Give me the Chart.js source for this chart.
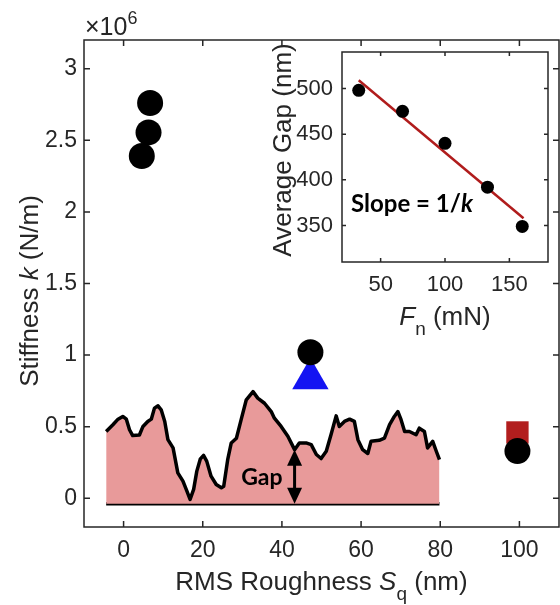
<!DOCTYPE html>
<html>
<head>
<meta charset="utf-8">
<script src="https://cdn.jsdelivr.net/npm/chart.js@4.4.1/dist/chart.umd.min.js"></script>
<style>
  html, body { margin: 0; padding: 0; background: #fff; overflow: hidden; }
  #wrap { position: relative; width: 560px; height: 605px; }
  #main { position: absolute; left: 0; top: 0; }
  #inset { position: absolute; left: 265px; top: 20px; }
</style>
</head>
<body>
<div id="wrap">
  <canvas id="main" width="560" height="605"></canvas>
  <canvas id="inset" width="295" height="320"></canvas>
</div>
<script>
// main panel: stiffness (x10^6 N/m) vs RMS roughness Sq (nm)
const roughCircle = [4.6, 6.3, 6.7, 47.2, 99.5];
const stiffCircle = [2.39, 2.555, 2.76, 1.02, 0.33];
const roughTriangle = [47.2];
const stiffTriangle = [0.835];
const roughSquare = [99.5];
const stiffSquare = [0.46];

// sketch of the rough surface, drawn in the same axes
const profileX = [-4.4, -2.7, -1.4, -0.2, 0.7, 1.5, 2.3, 4.0, 4.9, 6.1, 7.0, 7.8, 8.7, 9.5, 10.4, 11.2,
  12.5, 13.7, 15.0, 16.0, 16.8, 17.7, 18.5, 19.4, 20.2, 21.0, 22.1, 23.4, 24.7, 25.3, 26.3, 27.2, 28.5,
  29.7, 31.0, 32.7, 33.9, 35.6, 37.3, 38.1, 39.8, 41.5, 43.2, 44.4, 46.1, 47.4, 48.7, 49.9, 51.2, 52.4,
  53.7, 54.5, 55.8, 57.1, 58.3, 59.2, 60.4, 61.7, 62.5, 64.6, 65.9, 67.2, 68.4, 69.3, 70.1, 71.0, 72.2,
  73.9, 74.7, 76.0, 76.8, 78.1, 79.0, 79.8];
const profileY = [0.467, 0.514, 0.553, 0.572, 0.553, 0.479, 0.438, 0.442, 0.502, 0.537, 0.553, 0.63,
  0.646, 0.618, 0.537, 0.41, 0.352, 0.178, 0.12, 0.051, -0.007, 0.063, 0.19, 0.276, 0.3, 0.26, 0.155,
  0.097, 0.074, 0.085, 0.27, 0.387, 0.42, 0.55, 0.688, 0.745, 0.7, 0.664, 0.606, 0.56, 0.502, 0.433,
  0.34, 0.387, 0.387, 0.375, 0.306, 0.278, 0.329, 0.444, 0.576, 0.502, 0.537, 0.553, 0.537, 0.41, 0.34,
  0.313, 0.398, 0.405, 0.42, 0.514, 0.572, 0.606, 0.549, 0.467, 0.467, 0.444, 0.49, 0.467, 0.352,
  0.398, 0.329, 0.27];
const baseX = [-4.4, 79.8];
const baseY = -0.037;
const gapX = 43.2;
const gapTop = 0.34;

const xTicks = [0, 20, 40, 60, 80, 100];
const yTicks = [0, 0.5, 1, 1.5, 2, 2.5, 3];

// inset: average gap vs normal force
const forceFn = [33, 67, 100, 133, 160];
const avgGap = [498, 475, 440, 392, 349];
const fitFn = [33, 161];
const fitGap = [509, 358];
const insetXTicks = [50, 100, 150];
const insetYTicks = [350, 400, 450, 500];

const FONT = "'Liberation Sans', Arial, sans-serif";
const BOLD = "Lato, 'Open Sans', sans-serif";
const axisColor = '#262626';

const pts = (xs, ys) => xs.map((x, i) => ({ x: x, y: ys[i] }));

// box with inward ticks on all four sides
function frame(chart, len) {
  const { ctx, chartArea: a, scales: { x, y } } = chart;
  ctx.save();
  ctx.strokeStyle = axisColor;
  ctx.lineWidth = 1.5;
  ctx.strokeRect(a.left, a.top, a.right - a.left, a.bottom - a.top);
  ctx.beginPath();
  x.ticks.forEach(t => {
    const p = x.getPixelForValue(t.value);
    ctx.moveTo(p, a.bottom); ctx.lineTo(p, a.bottom - len);
    ctx.moveTo(p, a.top); ctx.lineTo(p, a.top + len);
  });
  y.ticks.forEach(t => {
    const p = y.getPixelForValue(t.value);
    ctx.moveTo(a.left, p); ctx.lineTo(a.left + len, p);
    ctx.moveTo(a.right, p); ctx.lineTo(a.right - len, p);
  });
  ctx.stroke();
  ctx.restore();
}

// text with italic / subscript / superscript pieces, centred on x
function rich(ctx, parts, x, y, size, family, weight, align) {
  const fontFor = p => `${p.i ? 'italic ' : ''}${weight || 'normal'} ${p.sub || p.sup ? Math.round(size * 0.72) : size}px ${family}`;
  let w = 0;
  parts.forEach(p => { ctx.font = fontFor(p); p.w = ctx.measureText(p.t).width; w += p.w; });
  let cx = align === 'left' ? x : x - w / 2;
  ctx.textAlign = 'left';
  ctx.textBaseline = 'alphabetic';
  parts.forEach(p => {
    ctx.font = fontFor(p);
    ctx.fillText(p.t, cx, y + (p.sub ? size * 0.4 : p.sup ? -size * 0.45 : 0));
    cx += p.w;
  });
}

const mainDecor = {
  id: 'mainDecor',
  afterDatasetsDraw(chart) {
    const { ctx, chartArea: a, scales: { x, y } } = chart;
    frame(chart, 6);

    // gap arrow
    const ax = x.getPixelForValue(gapX);
    const y1 = y.getPixelForValue(gapTop);
    const y2 = y.getPixelForValue(baseY);
    const head = 16, hw = 7.5;
    ctx.save();
    ctx.fillStyle = '#000';
    ctx.strokeStyle = '#000';
    ctx.lineWidth = 3;
    ctx.beginPath(); ctx.moveTo(ax, y1 + head - 2); ctx.lineTo(ax, y2 - head + 2); ctx.stroke();
    ctx.beginPath(); ctx.moveTo(ax, y1); ctx.lineTo(ax - hw, y1 + head); ctx.lineTo(ax + hw, y1 + head); ctx.closePath(); ctx.fill();
    ctx.beginPath(); ctx.moveTo(ax, y2); ctx.lineTo(ax - hw, y2 - head); ctx.lineTo(ax + hw, y2 - head); ctx.closePath(); ctx.fill();
    ctx.font = `bold 23px ${BOLD}`;
    ctx.textAlign = 'right';
    ctx.textBaseline = 'alphabetic';
    ctx.fillText('Gap', ax - 12, (y1 + y2) / 2 + 8);

    // axis titles
    ctx.fillStyle = axisColor;
    rich(ctx, [{ t: 'RMS Roughness ' }, { t: 'S', i: true }, { t: 'q', sub: true }, { t: ' (nm)' }],
      (a.left + a.right) / 2, 590, 26, FONT);
    ctx.translate(38, 291);
    ctx.rotate(-Math.PI / 2);
    rich(ctx, [{ t: 'Stiffness ' }, { t: 'k', i: true }, { t: ' (N/m)' }], 0, 0, 26, FONT);
    ctx.restore();

    ctx.save();
    ctx.fillStyle = axisColor;
    rich(ctx, [{ t: '\u00d710' }, { t: '6', sup: true }], a.left + 1, 35, 25, FONT, 'normal', 'left');
    ctx.restore();
  }
};

const insetDecor = {
  id: 'insetDecor',
  afterDatasetsDraw(chart) {
    const { ctx, chartArea: a } = chart;
    frame(chart, 4);
    ctx.save();
    ctx.fillStyle = axisColor;
    rich(ctx, [{ t: 'F', i: true }, { t: 'n', sub: true }, { t: ' (mN)' }], (a.left + a.right) / 2, 305, 26, FONT);
    ctx.translate(26, (a.top + a.bottom) / 2 - 7);
    ctx.rotate(-Math.PI / 2);
    rich(ctx, [{ t: 'Average Gap (nm)' }], 0, 0, 26, FONT);
    ctx.restore();
    ctx.save();
    ctx.fillStyle = '#000';
    rich(ctx, [{ t: 'Slope = 1/' }, { t: 'k', i: true }], a.left + 9, 192, 24, BOLD, 'bold', 'left');
    ctx.restore();
  }
};

function axis(min, max, ticks, size, pad, fit) {
  return {
    type: 'linear', min: min, max: max,
    afterBuildTicks: s => { s.ticks = ticks.map(v => ({ value: v })); },
    afterFit: fit,
    grid: { display: false, drawTicks: false, tickLength: 0 },
    border: { display: false },
    ticks: { font: { family: FONT, size: size }, color: axisColor, padding: pad, maxRotation: 0, callback: v => v }
  };
}

new Chart(document.getElementById('main'), {
  type: 'scatter',
  data: {
    datasets: [
      { data: pts(roughCircle, stiffCircle), pointStyle: 'circle', pointRadius: 13, backgroundColor: '#000', borderWidth: 0 },
      { data: pts(roughTriangle, stiffTriangle), pointStyle: 'triangle', pointRadius: 21, backgroundColor: '#1414f2', borderWidth: 0 },
      { data: pts(roughSquare, stiffSquare), pointStyle: 'rect', pointRadius: 15.8, backgroundColor: '#b21e1e', borderWidth: 0 },
      { type: 'line', data: pts(profileX, profileY), borderColor: '#000', borderWidth: 3.5, borderJoinStyle: 'round',
        pointRadius: 0, fill: { value: baseY }, backgroundColor: '#e89a9a', tension: 0 },
      { type: 'line', data: pts(baseX, [baseY, baseY]), borderColor: '#000', borderWidth: 3.5, pointRadius: 0, fill: false }
    ]
  },
  options: {
    responsive: false, animation: false, events: [],
    layout: { autoPadding: false, padding: { left: 0, right: 1, top: 40, bottom: 0 } },
    plugins: { legend: { display: false }, tooltip: { enabled: false } },
    scales: {
      x: axis(-10, 110, xTicks, 23, 10, s => { s.height = 78; }),
      y: axis(-0.2, 3.2, yTicks, 23, 7, s => { s.width = 84; })
    }
  },
  plugins: [mainDecor]
});

new Chart(document.getElementById('inset'), {
  type: 'scatter',
  data: {
    datasets: [
      { data: pts(forceFn, avgGap), pointStyle: 'circle', pointRadius: 6.5, backgroundColor: '#000', borderWidth: 0 },
      { type: 'line', data: pts(fitFn, fitGap), borderColor: '#b01c1c', borderWidth: 2.5, pointRadius: 0, fill: false }
    ]
  },
  options: {
    responsive: false, animation: false, events: [],
    layout: { autoPadding: false, padding: { left: 0, right: 12, top: 32, bottom: 0 } },
    plugins: { legend: { display: false }, tooltip: { enabled: false } },
    scales: {
      x: axis(20, 180, insetXTicks, 22, 10, s => { s.height = 78; }),
      y: axis(310, 540, insetYTicks, 22, 9, s => { s.width = 77; })
    }
  },
  plugins: [insetDecor]
});
</script>
</body>
</html>
